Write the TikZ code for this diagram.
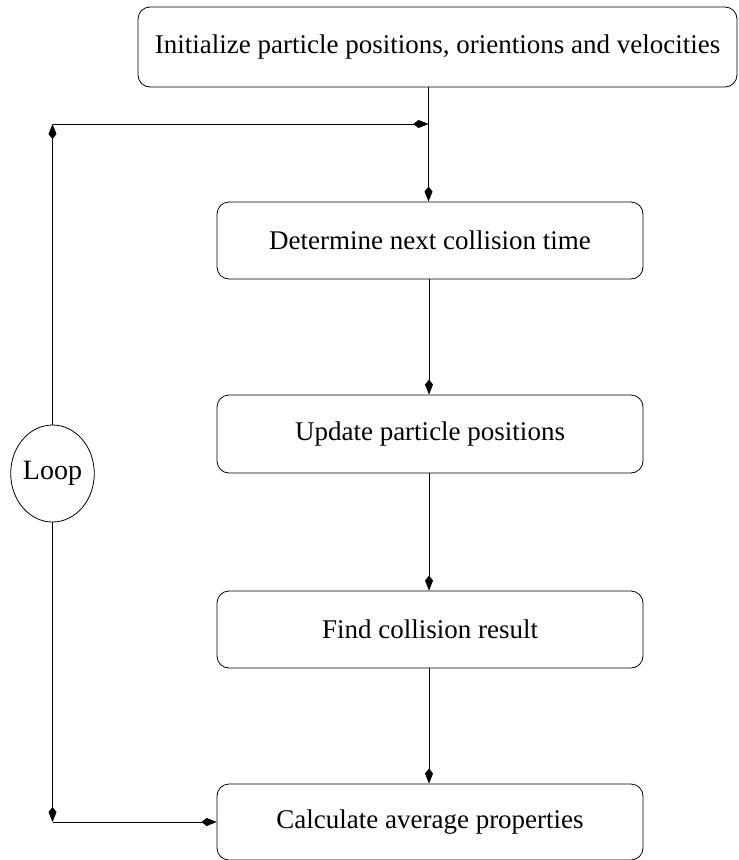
\documentclass[tikz,border=0pt]{standalone}
\usepackage{fontspec}
\setmainfont{Liberation Serif}
\usetikzlibrary{arrows.meta,shapes.geometric}
\begin{document}
\begin{tikzpicture}[x=1pt,y=-1pt,
  box/.style={draw,rounded corners=12pt,line width=0.8pt,inner sep=0pt,
    font=\fontsize{27}{32}\selectfont},
  arr/.style={line width=0.8pt,-{Kite[length=15pt,width=8pt,inset=5pt]}},
  conn/.style={line width=0.8pt}]
\useasboundingbox (0,0) rectangle (739,860);
\node[box,minimum width=599pt,minimum height=80pt] (init) at (437.5,47) {Initialize particle positions, orientions and velocities};
\node[box,minimum width=426pt,minimum height=77pt] (det) at (430,240.5) {Determine next collision time};
\node[box,minimum width=426pt,minimum height=78pt] (upd) at (430,434) {Update particle positions};
\node[box,minimum width=426pt,minimum height=77pt] (find) at (430,629.5) {Find collision result};
\node[box,minimum width=426pt,minimum height=76pt] (calc) at (430,822) {Calculate average properties};
\node[draw,ellipse,line width=0.8pt,minimum width=79pt,minimum height=97pt,inner sep=0pt,
  font=\fontsize{28}{32}\selectfont] (loop) at (52.5,473.5) {Loop};
\coordinate (j) at (428.5,124);
\coordinate (c1) at (52.5,124);
\coordinate (c2) at (52.5,822);
\draw[arr] (init.south -| j) -- (det.north -| j);
\draw[arr] (det.south -| 429,0) -- (upd.north -| 429,0);
\draw[arr] (upd.south -| 429,0) -- (find.north -| 429,0);
\draw[arr] (find.south -| 429,0) -- (calc.north -| 429,0);
\draw[arr] (loop.north) -- (c1);
\draw[arr] (c1) -- (j);
\draw[arr] (loop.south) -- (c2);
\draw[arr] (c2) -- (calc.west);
\end{tikzpicture}
\end{document}
